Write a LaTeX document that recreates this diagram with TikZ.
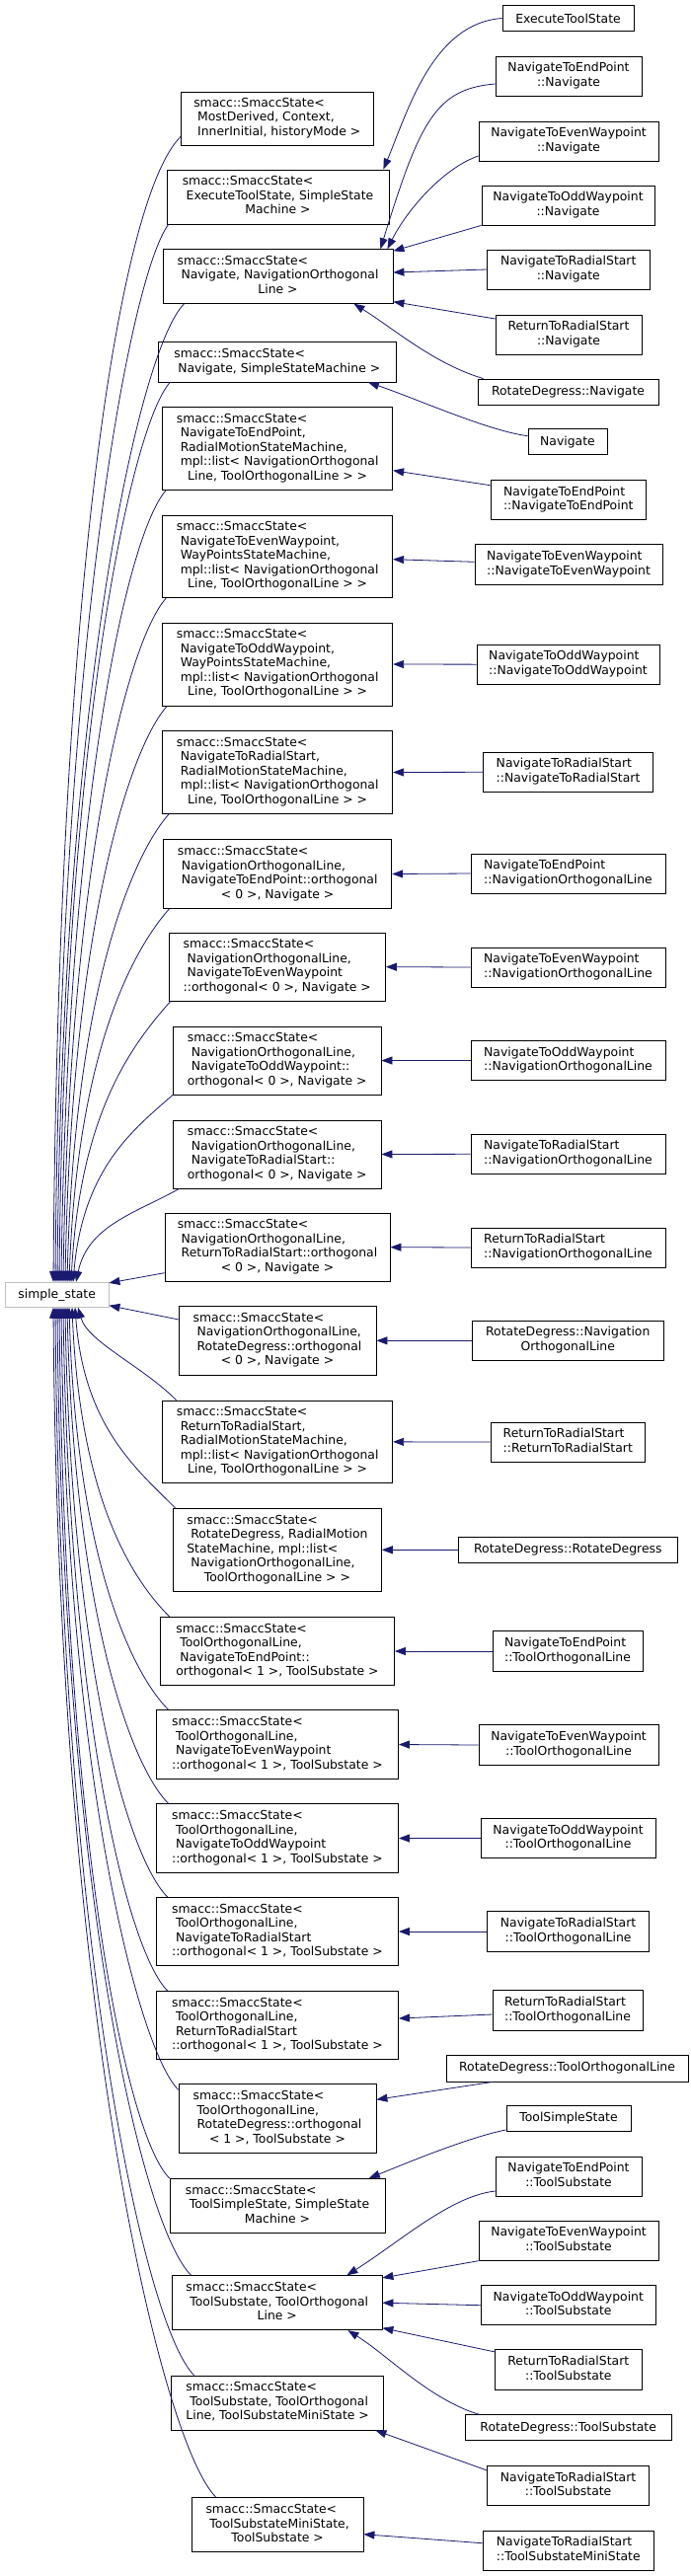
\documentclass[tikz,border=0pt]{standalone}
\usepackage{fontspec}
\setmainfont{DejaVu Sans}
\usetikzlibrary{arrows.meta}
\definecolor{edgeblue}{RGB}{25,25,112}
\definecolor{ssgray}{RGB}{191,191,191}
\newcommand{\putbox}[7][box]{\node[#1, minimum width={(#5-#3)*1pt}, minimum height={(#6-#4)*1pt}] (#2) at ({(#3+#5)/2},{-(#4+#6)/2}) {#7};}
\newcommand{\sml}[1]{\begin{tabular}{@{}l@{}}#1\end{tabular}}
\newcommand{\lastc}[1]{\multicolumn{1}{@{}c@{}}{#1}}
\begin{document}
\begin{tikzpicture}[x=1pt,y=1pt,
 box/.style={draw=black, line width=0.8pt, fill=white, inner sep=0pt, align=center, font=\fontsize{12.4}{14.5}\selectfont},
 graybox/.style={box, draw=ssgray},
 edge/.style={draw=edgeblue, line width=0.8pt, -{Triangle[length=11pt,width=8pt]}}]
\fill[white] (0,0) rectangle (699,-2610);
\useasboundingbox (0,0) rectangle (699,-2610);

% base
\putbox[graybox]{ss}{5.4}{1299.3}{110}{1324.3}{simple\_state}

% middle column
\putbox{mdc}{183.5}{93}{378}{147}{\sml{smacc::SmaccState<\\\ MostDerived, Context,\\\ InnerInitial, historyMode >}}
\putbox{ets}{169}{172}{394}{227}{\sml{smacc::SmaccState<\\\ ExecuteToolState, SimpleState\\\lastc{Machine >}}}
\putbox{nno}{165}{252.7}{398}{307.3}{\sml{smacc::SmaccState<\\\ Navigate, NavigationOrthogonal\\\lastc{Line >}}}
\putbox{nss}{160.6}{346.7}{401}{387}{\sml{smacc::SmaccState<\\\ Navigate, SimpleStateMachine >}}
\putbox{nep}{164.6}{412.3}{397.7}{496.3}{\sml{smacc::SmaccState<\\\ NavigateToEndPoint,\\\ RadialMotionStateMachine,\\\ mpl::list< NavigationOrthogonal\\\lastc{Line, ToolOrthogonalLine > >}}}
\putbox{new}{164.6}{522}{397.7}{605.7}{\sml{smacc::SmaccState<\\\ NavigateToEvenWaypoint,\\\ WayPointsStateMachine,\\\ mpl::list< NavigationOrthogonal\\\lastc{Line, ToolOrthogonalLine > >}}}
\putbox{now}{164.6}{631}{397.7}{715}{\sml{smacc::SmaccState<\\\ NavigateToOddWaypoint,\\\ WayPointsStateMachine,\\\ mpl::list< NavigationOrthogonal\\\lastc{Line, ToolOrthogonalLine > >}}}
\putbox{nrs}{164.6}{740.7}{397.7}{824.3}{\sml{smacc::SmaccState<\\\ NavigateToRadialStart,\\\ RadialMotionStateMachine,\\\ mpl::list< NavigationOrthogonal\\\lastc{Line, ToolOrthogonalLine > >}}}
\putbox{oep}{165.5}{850.7}{396.8}{920.3}{\sml{smacc::SmaccState<\\\ NavigationOrthogonalLine,\\\ NavigateToEndPoint::orthogonal\\\lastc{< 0 >, Navigate >}}}
\putbox{oew}{171}{945}{390.5}{1014.3}{\sml{smacc::SmaccState<\\\ NavigationOrthogonalLine,\\\ NavigateToEvenWaypoint\\::orthogonal< 0 >, Navigate >}}
\putbox{oow}{175.4}{1040}{386}{1109}{\sml{smacc::SmaccState<\\\ NavigationOrthogonalLine,\\\ NavigateToOddWaypoint::\\orthogonal< 0 >, Navigate >}}
\putbox{ors}{175.4}{1135}{386}{1204}{\sml{smacc::SmaccState<\\\ NavigationOrthogonalLine,\\\ NavigateToRadialStart::\\orthogonal< 0 >, Navigate >}}
\putbox{ort}{167}{1229}{395}{1298.3}{\sml{smacc::SmaccState<\\\ NavigationOrthogonalLine,\\\ ReturnToRadialStart::orthogonal\\\lastc{< 0 >, Navigate >}}}
\putbox{ord}{181}{1323.3}{381}{1393.3}{\sml{smacc::SmaccState<\\\ NavigationOrthogonalLine,\\\ RotateDegress::orthogonal\\\lastc{< 0 >, Navigate >}}}
\putbox{rtr}{164.6}{1419}{397.7}{1502.7}{\sml{smacc::SmaccState<\\\ ReturnToRadialStart,\\\ RadialMotionStateMachine,\\\ mpl::list< NavigationOrthogonal\\\lastc{Line, ToolOrthogonalLine > >}}}
\putbox{rdr}{175.4}{1528.3}{386.4}{1612.3}{\sml{smacc::SmaccState<\\\ RotateDegress, RadialMotion\\StateMachine, mpl::list<\\\ NavigationOrthogonalLine,\\\lastc{ToolOrthogonalLine > >}}}
\putbox{tep}{162.4}{1638.3}{399.5}{1707.7}{\sml{smacc::SmaccState<\\\ ToolOrthogonalLine,\\\ NavigateToEndPoint::\\orthogonal< 1 >, ToolSubstate >}}
\putbox{tew}{158.3}{1732.7}{403.5}{1802.3}{\sml{smacc::SmaccState<\\\ ToolOrthogonalLine,\\\ NavigateToEvenWaypoint\\::orthogonal< 1 >, ToolSubstate >}}
\putbox{tow}{158.3}{1827.7}{403.5}{1897.3}{\sml{smacc::SmaccState<\\\ ToolOrthogonalLine,\\\ NavigateToOddWaypoint\\::orthogonal< 1 >, ToolSubstate >}}
\putbox{trs}{158.3}{1922.3}{403.5}{1991.7}{\sml{smacc::SmaccState<\\\ ToolOrthogonalLine,\\\ NavigateToRadialStart\\::orthogonal< 1 >, ToolSubstate >}}
\putbox{trt}{158.3}{2017.3}{403.5}{2086.7}{\sml{smacc::SmaccState<\\\ ToolOrthogonalLine,\\\ ReturnToRadialStart\\::orthogonal< 1 >, ToolSubstate >}}
\putbox{trd}{181}{2111.7}{381}{2181.7}{\sml{smacc::SmaccState<\\\ ToolOrthogonalLine,\\\ RotateDegress::orthogonal\\\lastc{< 1 >, ToolSubstate >}}}
\putbox{tss}{172}{2207.3}{390}{2262}{\sml{smacc::SmaccState<\\\ ToolSimpleState, SimpleState\\\lastc{Machine >}}}
\putbox{tst}{174.5}{2305.7}{387}{2360.7}{\sml{smacc::SmaccState<\\\ ToolSubstate, ToolOrthogonal\\\lastc{Line >}}}
\putbox{tsm}{173.6}{2407}{388.7}{2462}{\sml{smacc::SmaccState<\\\ ToolSubstate, ToolOrthogonal\\Line, ToolSubstateMiniState >}}
\putbox{tmi}{194.3}{2530.7}{368}{2585.7}{\sml{smacc::SmaccState<\\\ ToolSubstateMiniState,\\\lastc{ToolSubstate >}}}

% right column
\putbox{r1}{509}{5.7}{642}{31.3}{ExecuteToolState}
\putbox{r2}{502}{57}{650}{97}{\sml{NavigateToEndPoint\\\lastc{::Navigate}}}
\putbox{r3}{485}{123}{667}{163}{\sml{NavigateToEvenWaypoint\\\lastc{::Navigate}}}
\putbox{r4}{488}{188}{663}{228}{\sml{NavigateToOddWaypoint\\\lastc{::Navigate}}}
\putbox{r5}{493.5}{253}{658}{293}{\sml{NavigateToRadialStart\\\lastc{::Navigate}}}
\putbox{r6}{502}{319}{650}{359}{\sml{ReturnToRadialStart\\\lastc{::Navigate}}}
\putbox{r7}{484}{384}{667}{410}{RotateDegress::Navigate}
\putbox{r8}{535}{434.7}{615}{460.7}{Navigate}
\putbox{r9}{497}{486.7}{654.5}{526.7}{\sml{NavigateToEndPoint\\\lastc{::NavigateToEndPoint}}}
\putbox{r10}{481}{551.7}{671}{592.3}{\sml{NavigateToEvenWaypoint\\\lastc{::NavigateToEvenWaypoint}}}
\putbox{r11}{483}{653}{668}{693.3}{\sml{NavigateToOddWaypoint\\\lastc{::NavigateToOddWaypoint}}}
\putbox{r12}{489.4}{762.3}{661.7}{802.3}{\sml{NavigateToRadialStart\\\lastc{::NavigateToRadialStart}}}
\putbox{r13}{477}{865}{674}{905}{\sml{NavigateToEndPoint\\\lastc{::NavigationOrthogonalLine}}}
\putbox{r14}{477}{960}{674}{1000}{\sml{NavigateToEvenWaypoint\\\lastc{::NavigationOrthogonalLine}}}
\putbox{r15}{477}{1054.7}{674}{1094.3}{\sml{NavigateToOddWaypoint\\\lastc{::NavigationOrthogonalLine}}}
\putbox{r16}{477}{1149.3}{674}{1189.3}{\sml{NavigateToRadialStart\\\lastc{::NavigationOrthogonalLine}}}
\putbox{r17}{477}{1244}{674}{1284}{\sml{ReturnToRadialStart\\\lastc{::NavigationOrthogonalLine}}}
\putbox{r18}{478}{1338.3}{672.5}{1378.3}{\sml{RotateDegress::Navigation\\\lastc{OrthogonalLine}}}
\putbox{r19}{497}{1441}{653.6}{1481}{\sml{ReturnToRadialStart\\\lastc{::ReturnToRadialStart}}}
\putbox{r20}{464.7}{1557.3}{686}{1583.3}{RotateDegress::RotateDegress}
\putbox{r21}{499}{1652.7}{651}{1693.3}{\sml{NavigateToEndPoint\\\lastc{::ToolOrthogonalLine}}}
\putbox{r22}{485}{1747.7}{667}{1788.3}{\sml{NavigateToEvenWaypoint\\\lastc{::ToolOrthogonalLine}}}
\putbox{r23}{487}{1842.3}{664}{1882.7}{\sml{NavigateToOddWaypoint\\\lastc{::ToolOrthogonalLine}}}
\putbox{r24}{493.5}{1936.7}{657.7}{1977.3}{\sml{NavigateToRadialStart\\\lastc{::ToolOrthogonalLine}}}
\putbox{r25}{499}{2016.7}{651}{2057.3}{\sml{ReturnToRadialStart\\\lastc{::ToolOrthogonalLine}}}
\putbox{r26}{452}{2082}{697}{2109}{RotateDegress::ToolOrthogonalLine}
\putbox{r27}{513}{2133.7}{639}{2159}{ToolSimpleState}
\putbox{r28}{502}{2185}{650}{2225}{\sml{NavigateToEndPoint\\\lastc{::ToolSubstate}}}
\putbox{r29}{485}{2250.3}{667}{2290.3}{\sml{NavigateToEvenWaypoint\\\lastc{::ToolSubstate}}}
\putbox{r30}{487.6}{2315.7}{664}{2355.7}{\sml{NavigateToOddWaypoint\\\lastc{::ToolSubstate}}}
\putbox{r31}{501.6}{2380.7}{650}{2421}{\sml{ReturnToRadialStart\\\lastc{::ToolSubstate}}}
\putbox{r32}{471.4}{2446.7}{680}{2472.7}{RotateDegress::ToolSubstate}
\putbox{r33}{493.5}{2498.7}{657.7}{2538.7}{\sml{NavigateToRadialStart\\\lastc{::ToolSubstate}}}
\putbox{r34}{489}{2564}{662.6}{2604}{\sml{NavigateToRadialStart\\\lastc{::ToolSubstateMiniState}}}

% right-column edges (child -> base)
\draw[edge] (r1.west) .. controls +(-70,-5) and +(25,60) .. ([xshift=-6]ets.north east);
\draw[edge] ([yshift=-8]r2.west) .. controls +(-60,-5) and +(40,130) .. ([xshift=-13]nno.north east);
\draw[edge] ([yshift=-15]r3.west) .. controls +(-35,-12) and +(20,40) .. ([xshift=-6]nno.north east);
\draw[edge] (r4.south west) -- ([yshift=-2]nno.north east);
\draw[edge] (r5.west) -- ([yshift=4]nno.east);
\draw[edge] ([yshift=16]r6.west) -- ([yshift=2]nno.south east);
\draw[edge] ([xshift=6]r7.north west) .. controls +(-50,15) and +(40,-25) .. ([xshift=-40]nno.south east);
\draw[edge] ([yshift=6]r8.west) .. controls +(-40,5) and +(45,-15) .. ([xshift=-28.5]nss.south east);
\draw[edge] ([yshift=15]r9.west) -- ([yshift=-22.4]nep.east);
\draw[edge] ([yshift=2.7]r10.west) -- ([yshift=-2.85]new.east);
\draw[edge] (r11.west) -- (now.east);
\draw[edge] (r12.west) -- (nrs.east);
\draw[edge] (r13.west) -- (oep.east);
\draw[edge] (r14.west) -- (oew.east);
\draw[edge] (r15.west) -- (oow.east);
\draw[edge] (r16.west) -- (ors.east);
\draw[edge] (r17.west) -- (ort.east);
\draw[edge] (r18.west) -- (ord.east);
\draw[edge] (r19.west) -- (rtr.east);
\draw[edge] (r20.west) -- (rdr.east);
\draw[edge] (r21.west) -- (tep.east);
\draw[edge] (r22.west) -- (tew.east);
\draw[edge] (r23.west) -- (tow.east);
\draw[edge] (r24.west) -- (trs.east);
\draw[edge] ([yshift=-4]r25.west) -- ([yshift=7]trt.east);
\draw[edge] ([xshift=-75.5]r26.south) -- ([yshift=19.4]trd.east);
\draw[edge] ([yshift=1.5]r27.south west) .. controls +(-40,-8) and +(30,12) .. ([xshift=-16.6]tss.north east);
\draw[edge] ([yshift=-15]r28.west) .. controls +(-45,-5) and +(55,35) .. ([xshift=-36]tst.north east);
\draw[edge] (r29.south west) -- ([yshift=-2.6]tst.north east);
\draw[edge] (r30.west) -- (tst.east);
\draw[edge] ([yshift=-2.6]r31.north west) -- ([yshift=2.4]tst.south east);
\draw[edge] ([xshift=14.4]r32.north west) .. controls +(-50,15) and +(40,-25) .. ([xshift=-35]tst.south east);
\draw[edge] ([yshift=-4.6]r33.north west) -- ([xshift=-8.7]tsm.south east);
\draw[edge] ([yshift=7.3]r34.west) -- ([yshift=-9.5]tmi.east);

% middle column -> simple_state (above)
\foreach \n/\sx/\sy/\ax/\ay/\bx/\L/\ex in {
  mdc/0/9/-63/-62/5/700/-3.7,
  ets/2/0/-40/-55/5/640/-1.7,
  nno/22/0/-45/-45/5/600/0.3,
  nss/12/0/-40/-45/5/550/2.3,
  nep/4/0/-40/-45/6/480/4.3,
  new/4/0/-40/-45/6/415/6.3,
  now/5/0/-40/-45/6/350/8.3,
  nrs/7/0/-40/-45/7/285/10.3,
  oep/6.5/0/-40/-45/8/227/12.3,
  oew/2/0/-40/-45/9/170/14.3,
  oow/0/0/-40/-35/10/115/16.3,
  ors/6.6/0/-45/-25/12/57/19.3}
  {\draw[edge] ([xshift=\sx,yshift=\sy]\n.south west) .. controls +(\ax,\ay) and +(\bx,\L) .. ([xshift=\ex]ss.north);}

\draw[edge] ([yshift=9]ort.south west) -- ([yshift=-1]ss.north east);
\draw[edge] ([yshift=-14]ord.north west) -- ([yshift=2]ss.south east);

% middle column -> simple_state (below)
\foreach \n/\sx/\sy/\ax/\ay/\bx/\L/\ex in {
  rtr/14.4/0/-35/35/10/-35/21.3,
  rdr/2.6/0/-40/40/9/-120/18.3,
  tep/9.6/0/-40/40/8/-190/15.3,
  tew/12.7/0/-40/40/7/-245/12.3,
  tow/12.7/0/-40/40/7/-300/10.3,
  trs/11.7/0/-40/40/6/-360/8.3,
  trt/11.7/0/-40/40/6/-415/6.3,
  trd/0/-6/-40/40/5/-475/4.3,
  tss/0/0/-45/45/5/-530/2.3,
  tst/19.5/0/-50/50/5/-590/0.3,
  tsm/23.4/0/-50/50/5/-650/-1.7,
  tmi/25/0/-55/55/5/-720/-3.7}
  {\draw[edge] ([xshift=\sx,yshift=\sy]\n.north west) .. controls +(\ax,\ay) and +(\bx,\L) .. ([xshift=\ex]ss.south);}
\end{tikzpicture}
\end{document}
